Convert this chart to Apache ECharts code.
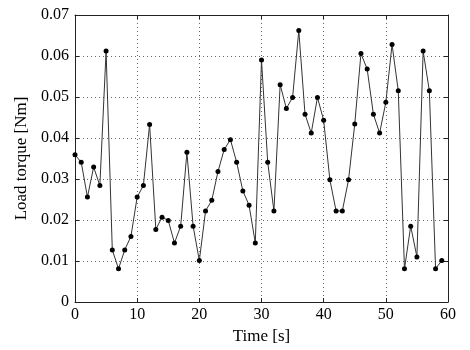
<!DOCTYPE html>
<html><head><meta charset="utf-8">
<script src="https://cdn.jsdelivr.net/npm/echarts@6/dist/echarts.min.js"></script>
<style>html,body{margin:0;padding:0;background:#fff}#c{width:470px;height:350px}</style>
</head><body><div id="c"></div>
<script>
const timeValues = [0,1,2,3,4,5,6,7,8,9,10,11,12,13,14,15,16,17,18,19,20,21,22,23,24,25,26,27,28,29,30,31,32,33,34,35,36,37,38,39,40,41,42,43,44,45,46,47,48,49,50,51,52,53,54,55,56,57,58,59];
const torqueValues = [0.0359,0.0341,0.0256,0.0329,0.0284,0.0612,0.0127,0.0081,0.0127,0.0160,
0.0256,0.0284,0.0433,0.0177,0.0207,0.0199,0.0144,0.0185,0.0365,0.0185,
0.0101,0.0222,0.0248,0.0318,0.0372,0.0396,0.0341,0.0271,0.0236,0.0144,
0.0590,0.0341,0.0222,0.0530,0.0472,0.0499,0.0662,0.0458,0.0412,0.0499,
0.0443,0.0298,0.0222,0.0222,0.0298,0.0434,0.0606,0.0568,0.0458,0.0412,
0.0487,0.0628,0.0515,0.0081,0.0185,0.0110,0.0612,0.0515,0.0081,0.0101];
const xTicks = [0,10,20,30,40,50,60];
const yTicks = [0,0.01,0.02,0.03,0.04,0.05,0.06,0.07];

const font = '"Liberation Serif","Times New Roman",serif';
const chart = echarts.init(document.getElementById('c'));
const data = timeValues.map((t,i)=>[t, torqueValues[i]]);
const lineStyle = {color:'#222', width:1};
chart.setOption({
  animation:false,
  grid:{left:75, right:22, top:15, bottom:46, show:false},
  xAxis:[{
    type:'value', min:xTicks[0], max:xTicks[xTicks.length-1], interval:10, position:'bottom',
    name:'Time [s]', nameLocation:'middle', nameGap:26,
    nameTextStyle:{fontFamily:font, fontSize:17, color:'#000'},
    axisLine:{show:true, onZero:false, lineStyle:lineStyle},
    axisTick:{show:true, inside:true, length:4, lineStyle:lineStyle},
    axisLabel:{fontFamily:font, fontSize:16, color:'#000', margin:5},
    splitLine:{show:true, lineStyle:{type:[1,3], color:'#666', width:1}}
  },{
    type:'value', min:xTicks[0], max:xTicks[xTicks.length-1], interval:10, position:'top',
    axisLine:{show:true, onZero:false, lineStyle:lineStyle},
    axisTick:{show:true, inside:true, length:4, lineStyle:lineStyle},
    axisLabel:{show:false}, splitLine:{show:false}
  }],
  yAxis:[{
    type:'value', min:yTicks[0], max:yTicks[yTicks.length-1], interval:0.01, position:'left',
    name:'Load torque [Nm]', nameLocation:'middle', nameGap:41,
    nameTextStyle:{fontFamily:font, fontSize:17, color:'#000'},
    axisLine:{show:true, onZero:false, lineStyle:lineStyle},
    axisTick:{show:true, inside:true, length:4, lineStyle:lineStyle},
    axisLabel:{fontFamily:font, fontSize:16, color:'#000', margin:6,
      formatter:v=>v===0?'0':v.toFixed(2)},
    splitLine:{show:true, lineStyle:{type:[1,3], color:'#666', width:1}}
  },{
    type:'value', min:yTicks[0], max:yTicks[yTicks.length-1], interval:0.01, position:'right',
    axisLine:{show:true, onZero:false, lineStyle:lineStyle},
    axisTick:{show:true, inside:true, length:4, lineStyle:lineStyle},
    axisLabel:{show:false}, splitLine:{show:false}
  }],
  series:[{
    type:'line', data:data, xAxisIndex:0, yAxisIndex:0,
    symbol:'circle', symbolSize:5,
    itemStyle:{color:'#000'},
    lineStyle:{color:'#333', width:1}
  }]
});
</script></body></html>
